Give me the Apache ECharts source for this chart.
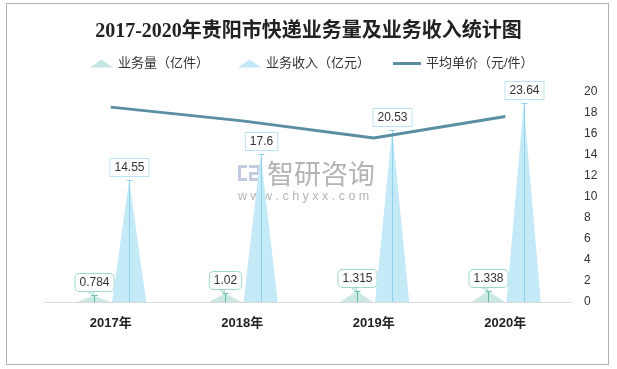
<!DOCTYPE html>
<html><head><meta charset="utf-8">
<script src="https://cdn.jsdelivr.net/npm/echarts@6/dist/echarts.min.js"></script>
<style>html,body{margin:0;padding:0;background:#fff}#c{width:617px;height:369px}</style>
</head><body><div id="c"></div>
<script>
var titleText = '2017-2020年贵阳市快递业务量及业务收入统计图';
var categories = ['2017年', '2018年', '2019年', '2020年'];
var volume = [0.784, 1.02, 1.315, 1.338];       // 业务量（亿件）
var revenue = [14.55, 17.6, 20.53, 23.64];      // 业务收入（亿元）
var avgPrice = [18.56, 17.25, 15.61, 17.67];    // 平均单价（元/件）
var nameVolume = '业务量（亿件）';
var nameRevenue = '业务收入（亿元）';
var namePrice = '平均单价（元/件）';

var FONT = '"Liberation Sans","Noto Sans CJK SC",sans-serif';

function triRender(offsetFrac, halfFrac, fill, stroke, boxBorder, radius, tail) {
  return function (params, api) {
    var i = api.value(0), v = api.value(1);
    var base = api.coord([i, 0]), top = api.coord([i, v]);
    var bw = api.size([1, 0])[0];
    var cx = base[0] + offsetFrac * bw, hw = halfFrac * bw;
    var lx = Math.round(cx) + 0.5;
    var by = base[1], ty = Math.round(top[1]) + 0.5;
    var children = [
      {type: 'polygon', shape: {points: [[cx - hw, by], [cx, top[1]], [cx + hw, by]]}, style: {fill: fill}},
      {type: 'line', shape: {x1: lx, y1: by, x2: lx, y2: ty}, style: {stroke: stroke, lineWidth: 1}},
      {type: 'line', shape: {x1: lx - 3, y1: ty, x2: lx + 3, y2: ty}, style: {stroke: stroke, lineWidth: 1}}
    ];
    var bb = Math.round(top[1]) - 4;
    if (tail) {
      children.push({type: 'polygon', shape: {points: [[lx - 9, bb - 1], [lx, ty], [lx - 3, bb - 1]]},
        style: {fill: '#fff', stroke: boxBorder, lineWidth: 1}});
    }
    children.push({
      type: 'text', x: lx, y: bb,
      style: {
        text: String(v), fill: '#333', font: '12px ' + FONT,
        align: 'center', verticalAlign: 'bottom',
        backgroundColor: '#fff', borderColor: boxBorder, borderWidth: 1,
        borderRadius: radius, padding: [3, 4, 2, 4]
      }
    });
    return {type: 'group', children: children};
  };
}

var chart = echarts.init(document.getElementById('c'));
chart.setOption({
  backgroundColor: '#fff',
  animation: false,
  title: {
    text: titleText, left: 'center', top: 17,
    textStyle: {fontSize: 20, fontWeight: 'bold', color: '#222',
      fontFamily: '"Liberation Serif","Noto Sans CJK SC",serif'}
  },
  legend: [
    {left: 90, top: 57, padding: 0, itemWidth: 23, itemHeight: 8,
      textStyle: {fontSize: 13, color: '#333', fontFamily: FONT},
      data: [{name: nameVolume, icon: 'triangle', itemStyle: {color: '#c6e6e2'}}]},
    {left: 238, top: 57, padding: 0, itemWidth: 23, itemHeight: 8,
      textStyle: {fontSize: 13, color: '#333', fontFamily: FONT},
      data: [{name: nameRevenue, icon: 'triangle', itemStyle: {color: '#c2e7f5'}}]},
    {left: 393, top: 57, padding: 0, itemWidth: 28, itemHeight: 3,
      textStyle: {fontSize: 13, color: '#333', fontFamily: FONT},
      data: [{name: namePrice, icon: 'rect', itemStyle: {color: '#5a8fa3'}}]}
  ],
  grid: {left: 45, right: 46, top: 92, bottom: 67},
  xAxis: {
    type: 'category', data: categories,
    axisLine: {lineStyle: {color: '#d9d9d9', width: 1}},
    axisTick: {show: false},
    axisLabel: {fontSize: 13, fontWeight: 'bold', color: '#222', margin: 15, fontFamily: FONT}
  },
  yAxis: [
    {type: 'value', min: 0, max: 25, show: false},
    {type: 'value', position: 'right', min: 0, max: 20, interval: 2,
      axisLine: {show: false}, axisTick: {show: false}, splitLine: {show: false},
      axisLabel: {fontSize: 12, color: '#333', margin: 13, fontFamily: FONT}}
  ],
  graphic: [
    {type: 'group', left: 238, top: 165, children: [
      {type: 'rect', shape: {x: 0, y: 0, width: 9, height: 3}, style: {fill: '#c3cbe0'}},
      {type: 'rect', shape: {x: 0, y: 0, width: 3, height: 16}, style: {fill: '#c3cbe0'}},
      {type: 'rect', shape: {x: 0, y: 13, width: 9, height: 3}, style: {fill: '#c3cbe0'}},
      {type: 'rect', shape: {x: 11, y: 0, width: 11, height: 3}, style: {fill: '#c3cbe0'}},
      {type: 'rect', shape: {x: 19, y: 0, width: 3, height: 9}, style: {fill: '#c3cbe0'}},
      {type: 'rect', shape: {x: 11, y: 7, width: 11, height: 3}, style: {fill: '#c3cbe0'}},
      {type: 'rect', shape: {x: 11, y: 7, width: 3, height: 9}, style: {fill: '#c3cbe0'}},
      {type: 'rect', shape: {x: 11, y: 13, width: 11, height: 3}, style: {fill: '#c3cbe0'}}
    ]},
    {type: 'text', left: 267, top: 160,
      style: {text: '智研咨询', fill: '#b4b4b4', font: '27px "Noto Sans CJK SC",sans-serif'}},
    {type: 'text', left: 238, top: 190,
      style: {text: 'w w w . c h y x x . c o m', fill: '#b4b4b4', font: '12.5px ' + FONT}}
  ],
  series: [
    {name: nameVolume, type: 'custom', xAxisIndex: 0, yAxisIndex: 0, z: 2,
      itemStyle: {color: '#c6e6e2'},
      renderItem: triRender(-0.13, 0.125, '#cbe9e4', '#5fb8a8', '#9fd8cc', 4, true),
      encode: {x: 0, y: 1},
      data: volume.map(function (v, i) { return [i, v]; })},
    {name: nameRevenue, type: 'custom', xAxisIndex: 0, yAxisIndex: 0, z: 2,
      itemStyle: {color: '#c2e7f5'},
      renderItem: triRender(0.14, 0.13, '#c4eaf8', '#8fd4ec', '#bde4f4', 0, false),
      encode: {x: 0, y: 1},
      data: revenue.map(function (v, i) { return [i, v]; })},
    {name: namePrice, type: 'line', yAxisIndex: 1, z: 5,
      data: avgPrice, symbol: 'none', showSymbol: false,
      lineStyle: {color: '#5a8fa3', width: 3}, itemStyle: {color: '#5a8fa3'}}
  ]
});
</script>
<div style="position:absolute;left:6px;top:3px;width:603px;height:362px;border:1px solid #b0b0b0;pointer-events:none;box-sizing:border-box;"></div>
</body></html>
